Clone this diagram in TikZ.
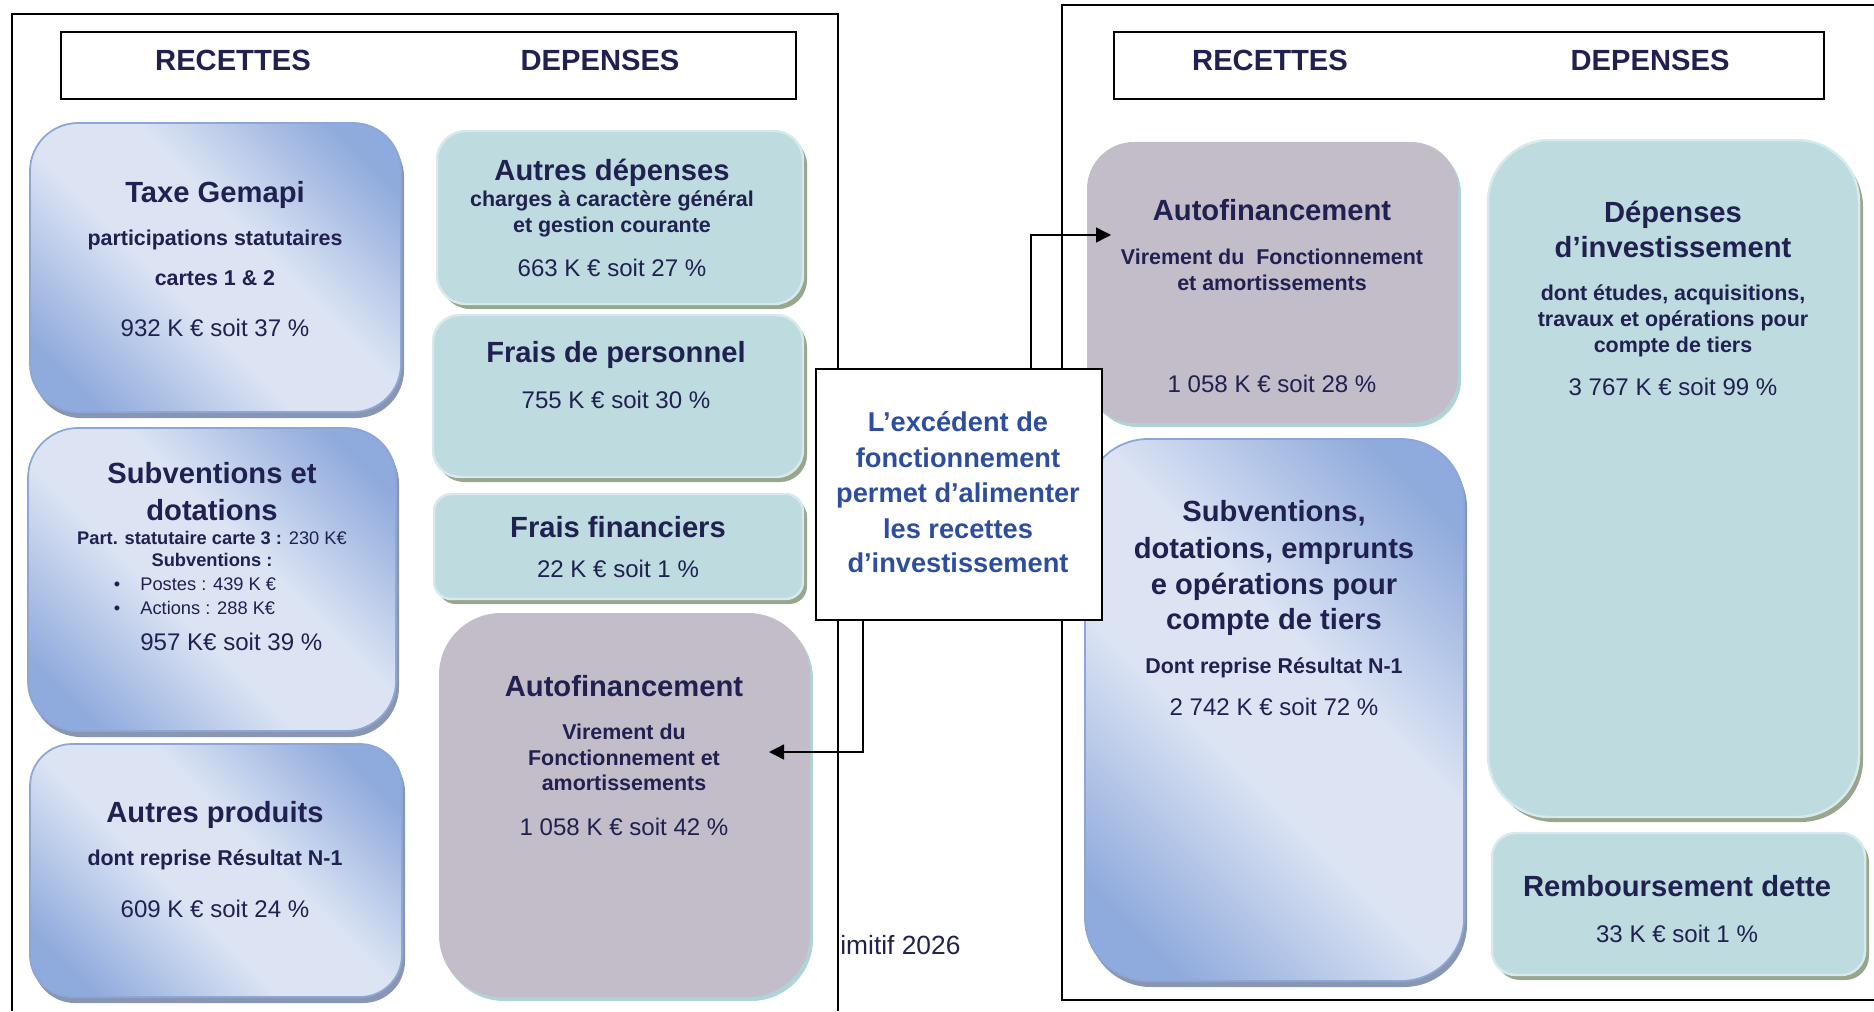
\documentclass[tikz,border=0pt]{standalone}
\usepackage{fontspec}
\setmainfont{Liberation Sans}
\usetikzlibrary{arrows.meta,shadows}

% Colours
\definecolor{marine}{RGB}{32,33,80}
\definecolor{bleutexte}{RGB}{45,78,158}
\definecolor{bleufonce}{RGB}{143,170,220}
\definecolor{bleuclair}{RGB}{220,228,244}
\definecolor{bleubord}{RGB}{140,166,214}
\definecolor{bleuombre}{RGB}{136,150,178}
\definecolor{vertfond}{RGB}{190,219,223}
\definecolor{vertbord}{RGB}{214,234,236}
\definecolor{vertombre}{RGB}{152,166,140}
\definecolor{mauvefond}{RGB}{195,188,201}
\definecolor{mauveombre}{RGB}{174,212,216}

\pgfdeclarehorizontalshading{bleudiag}{100bp}{color(0bp)=(bleufonce); color(22bp)=(bleufonce); color(43bp)=(bleuclair); color(57bp)=(bleuclair); color(78bp)=(bleufonce); color(100bp)=(bleufonce)}

\newcommand\fonttitre{\fontsize{16.6pt}{20pt}\selectfont\bfseries}
\newcommand\fontsous{\fontsize{12.2pt}{14.8pt}\selectfont\bfseries}
\newcommand\fontval{\fontsize{13.7pt}{16pt}\selectfont}
\newcommand\fontpetit{\fontsize{10.4pt}{13pt}\selectfont}
\newcommand\fontcentre{\fontsize{15.5pt}{20pt}\selectfont\bfseries}

\tikzset{
  cadre/.style={line width=0.8pt},
  entete/.style={draw, line width=1.1pt, fill=white, inner sep=0pt},
  boitebleue/.style={draw=bleubord, line width=1pt, shade, shading=bleudiag, shading angle=45, inner sep=0pt,
    drop shadow={shadow xshift=0.06cm, shadow yshift=-0.12cm, fill=bleuombre, opacity=1}},
  boiteverte/.style={draw=vertbord, line width=1.4pt, fill=vertfond, inner sep=0pt,
    drop shadow={shadow xshift=0.08cm, shadow yshift=-0.10cm, fill=vertombre, opacity=1}},
  boitemauve/.style={fill=mauvefond, inner sep=0pt,
    drop shadow={shadow xshift=0.06cm, shadow yshift=-0.08cm, fill=mauveombre, opacity=1}},
  boitecentre/.style={draw, line width=0.9pt, fill=white, inner sep=0pt},
  texttitre/.style={font=\fonttitre, text=marine, anchor=base, inner sep=0pt},
  textsous/.style={font=\fontsous, text=marine, anchor=base, inner sep=0pt},
  textval/.style={font=\fontval, text=marine, anchor=base, inner sep=0pt},
  textpetit/.style={font=\fontpetit, text=marine, anchor=base, inner sep=0pt},
  textcentre/.style={font=\fontcentre, text=bleutexte, anchor=base, inner sep=0pt},
  fleche/.style={line width=0.8pt, -{Triangle[length=0.3cm,width=0.3cm]}}
}

\begin{document}
\begin{tikzpicture}
\useasboundingbox (0,0) rectangle (37.480000,20.220000);%

% Drawing frames
\draw [cadre] (0.240000,0.000000) -- (0.240000,19.940000) -- (16.760000,19.940000) -- (16.760000,0.000000);%
\draw [cadre] (37.700000,0.220000) -- (21.240000,0.220000) -- (21.240000,20.120000) -- (37.700000,20.120000);%

% Drawing headers
\node [entete, minimum width=14.700000cm, minimum height=1.340000cm] (enteteg) at (8.570000,18.910000) {};%
\node [entete, minimum width=14.200000cm, minimum height=1.340000cm] (entetd) at (29.380000,18.910000) {};%
\draw (4.660000,18.810000) node (recg) [texttitre] {RECETTES};%
\draw (12.000000,18.810000) node (depg) [texttitre] {DEPENSES};%
\draw (25.400000,18.810000) node (recd) [texttitre] {RECETTES};%
\draw (33.000000,18.810000) node (depd) [texttitre] {DEPENSES};%

% Drawing boxes
\node [boitebleue, minimum width=7.420000cm, minimum height=5.780000cm, rounded corners=0.960000cm] (gemapi) at (4.310000,14.870000) {};%
\node [boitebleue, minimum width=7.360000cm, minimum height=6.060000cm, rounded corners=1.000000cm] (subvg) at (4.240000,8.630000) {};%
\node [boitebleue, minimum width=7.440000cm, minimum height=5.060000cm, rounded corners=0.840000cm] (produits) at (4.320000,2.810000) {};%
\node [boiteverte, minimum width=7.320000cm, minimum height=3.460000cm, rounded corners=0.580000cm] (autresdep) at (12.400000,15.870000) {};%
\node [boiteverte, minimum width=7.400000cm, minimum height=3.240000cm, rounded corners=0.540000cm] (personnel) at (12.360000,12.300000) {};%
\node [boiteverte, minimum width=7.380000cm, minimum height=2.100000cm, rounded corners=0.350000cm] (financiers) at (12.370000,9.290000) {};%
\node [boitemauve, minimum width=7.420000cm, minimum height=7.680000cm, rounded corners=1.240000cm] (autofg) at (12.490000,4.120000) {};%
\node [boitemauve, minimum width=7.420000cm, minimum height=5.620000cm, rounded corners=0.940000cm] (autofd) at (25.450000,14.570000) {};%
\node [boitebleue, minimum width=7.580000cm, minimum height=10.840000cm, rounded corners=1.260000cm] (subvd) at (25.490000,6.020000) {};%
\node [boiteverte, minimum width=7.420000cm, minimum height=13.540000cm, rounded corners=1.240000cm] (invest) at (33.470000,10.650000) {};%
\node [boiteverte, minimum width=7.460000cm, minimum height=2.840000cm, rounded corners=0.480000cm] (dette) at (33.570000,2.140000) {};%
\node [boitecentre, minimum width=5.720000cm, minimum height=5.020000cm] (excedent) at (19.180000,10.330000) {};%

% Drawing connectors
\coordinate (coudehaut) at (20.620000,15.520000);%
\coordinate (flechehaut) at (22.220000,15.520000);%
\coordinate (coudebas) at (17.260000,5.180000);%
\coordinate (flechebas) at (15.380000,5.180000);%
\draw [fleche] (excedent.north -| coudehaut) -- (coudehaut) -- (flechehaut);%
\draw [fleche] (excedent.south -| coudebas) -- (coudebas) -- (flechebas);%

% Taxe Gemapi
\draw (4.300000,16.170000) node (gemapia) [texttitre] {Taxe Gemapi};%
\draw (4.300000,15.306000) node (gemapib) [textsous] {participations statutaires};%
\draw (4.300000,14.506000) node (gemapic) [textsous] {cartes 1 \& 2};%
\draw (4.300000,13.488000) node (gemapid) [textval] {932 K € soit 37 \%};%

% Subventions et dotations
\draw (4.240000,10.550000) node (subvga) [texttitre] {Subventions et};%
\draw (4.240000,9.810000) node (subvgb) [texttitre] {dotations};%
\draw (4.240000,9.328000) node (subvgc) [textpetit] {{\bfseries Part. statutaire carte 3 :} 230 K€};%
\draw (4.240000,8.888000) node (subvgd) [textpetit, font=\fontpetit\bfseries] {Subventions :};%
\draw (2.340000,8.408000) node (puce1) [textpetit] {\textbullet};%
\draw (2.800000,8.408000) node (subvge) [textpetit, anchor=base west] {Postes : 439 K €};%
\draw (2.340000,7.928000) node (puce2) [textpetit] {\textbullet};%
\draw (2.800000,7.928000) node (subvgf) [textpetit, anchor=base west] {Actions : 288 K€};%
\draw (2.800000,7.208000) node (subvgg) [textval, anchor=base west] {957 K€ soit 39 \%};%

% Autres produits
\draw (4.300000,3.770000) node (produitsa) [texttitre] {Autres produits};%
\draw (4.300000,2.906000) node (produitsb) [textsous] {dont reprise Résultat N-1};%
\draw (4.300000,1.868000) node (produitsc) [textval] {609 K € soit 24 \%};%

% Autres depenses
\draw (12.240000,16.610000) node (autresdepa) [texttitre] {Autres dépenses};%
\draw (12.240000,16.086000) node (autresdepb) [textsous] {charges à caractère général};%
\draw (12.240000,15.566000) node (autresdepc) [textsous] {et gestion courante};%
\draw (12.240000,14.688000) node (autresdepd) [textval] {663 K € soit 27 \%};%

% Frais de personnel, frais financiers
\draw (12.320000,12.970000) node (personnela) [texttitre] {Frais de personnel};%
\draw (12.320000,12.048000) node (personnelb) [textval] {755 K € soit 30 \%};%
\draw (12.360000,9.470000) node (financiersa) [texttitre] {Frais financiers};%
\draw (12.360000,8.668000) node (financiersb) [textval] {22 K € soit 1 \%};%

% Autofinancement (fonctionnement)
\draw (12.480000,6.290000) node (autofga) [texttitre] {Autofinancement};%
\draw (12.480000,5.426000) node (autofgb) [textsous] {Virement du};%
\draw (12.480000,4.906000) node (autofgc) [textsous] {Fonctionnement et};%
\draw (12.480000,4.406000) node (autofgd) [textsous] {amortissements};%
\draw (12.480000,3.508000) node (autofge) [textval] {1 058 K € soit 42 \%};%

% Excedent
\draw (19.160000,11.584000) node (excedenta) [textcentre] {L’excédent de};%
\draw (19.160000,10.864000) node (excedentb) [textcentre] {fonctionnement};%
\draw (19.160000,10.170000) node (excedentc) [textcentre] {permet d’alimenter};%
\draw (19.160000,9.450000) node (excedentd) [textcentre] {les recettes};%
\draw (19.160000,8.764000) node (excedente) [textcentre] {d’investissement};%
\draw (16.800000,1.140000) node (primitif) [textval, font=\fontsize{15pt}{18pt}\selectfont, anchor=base west] {imitif 2026};%

% Autofinancement (investissement)
\draw (25.440000,15.810000) node (autofda) [texttitre] {Autofinancement};%
\draw (25.440000,14.926000) node (autofdb) [textsous] {Virement du~ Fonctionnement};%
\draw (25.440000,14.406000) node (autofdc) [textsous] {et amortissements};%
\draw (25.440000,12.368000) node (autofdd) [textval] {1 058 K € soit 28 \%};%

% Subventions, dotations, emprunts
\draw (25.480000,9.790000) node (subvda) [texttitre] {Subventions,};%
\draw (25.480000,9.050000) node (subvdb) [texttitre] {dotations, emprunts};%
\draw (25.480000,8.330000) node (subvdc) [texttitre] {e opérations pour};%
\draw (25.480000,7.630000) node (subvdd) [texttitre] {compte de tiers};%
\draw (25.480000,6.746000) node (subvde) [textsous] {Dont reprise Résultat N-1};%
\draw (25.480000,5.908000) node (subvdf) [textval] {2 742 K € soit 72 \%};%

% Depenses d'investissement
\draw (33.460000,15.770000) node (investa) [texttitre] {Dépenses};%
\draw (33.460000,15.070000) node (investb) [texttitre] {d’investissement};%
\draw (33.460000,14.206000) node (investc) [textsous] {dont études, acquisitions,};%
\draw (33.460000,13.686000) node (investd) [textsous] {travaux et opérations pour};%
\draw (33.460000,13.166000) node (investe) [textsous] {compte de tiers};%
\draw (33.460000,12.308000) node (investf) [textval] {3 767 K € soit 99 \%};%

% Remboursement dette
\draw (33.540000,2.290000) node (dettea) [texttitre] {Remboursement dette};%
\draw (33.540000,1.368000) node (detteb) [textval] {33 K € soit 1 \%};%
\end{tikzpicture}
\end{document}
